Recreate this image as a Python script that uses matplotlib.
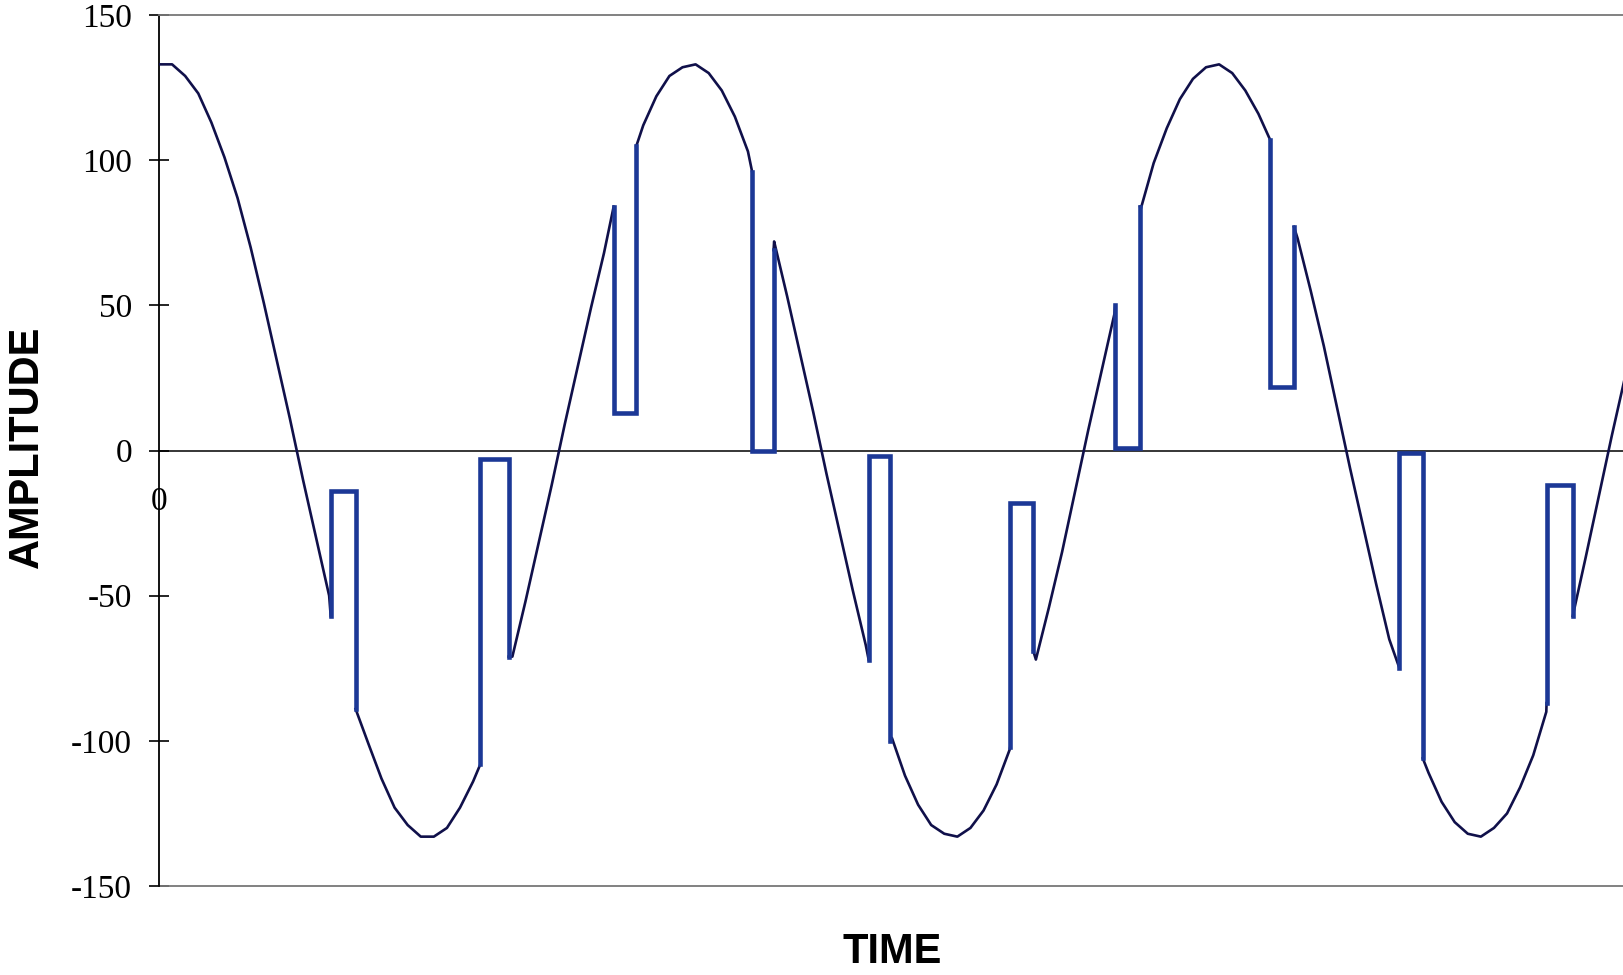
import numpy as np
import matplotlib
matplotlib.use("Agg")
import matplotlib.pyplot as plt

# carrier samples (time units, amplitude)
time = list(range(0, 561, 5))
amplitude = [133, 133, 129, 123, 113, 101, 87, 70, 51, 31, 11, -10, -30, -50,
             -69, -86, -101, -113, -123, -129, -133, -133, -130, -123, -114,
             -102, -87, -71, -52, -32, -12, 9, 29, 49, 68,
             85, 100, 112, 122, 129, 132, 133, 130, 124, 115, 103,
             88, 72, 53, 33, 13, -8, -28, -48, -67,
             -84, -99, -112, -122, -129, -132, -133, -130, -124, -115, -103,
             -89, -72, -54, -35, -14, 7, 27, 47,
             66, 83, 99, 111, 121, 128, 132, 133, 130, 124, 116,
             104, 90, 73, 55, 36, 15, -6, -26, -46, -65,
             -83, -98, -111, -121, -128, -132, -133, -130, -125, -116, -105, -90,
             -74, -56, -37, -16, 5, 25]

# notches: start / end time, curve value going in, held level, curve value coming out
notch_start = [65.6, 122.8, 173.7, 226.6, 271.1, 325.2, 365.3, 424.5, 473.9, 530.1]
notch_end = [75.1, 133.6, 182.4, 234.8, 279.4, 334.0, 374.8, 433.6, 482.8, 540.1]
notch_in = [-57, -108, 84, 96, -72, -102, 50, 107, -75, -87]
notch_hold = [-14, -3, 13, 0, -2, -18, 1, 22, -1, -12]
notch_out = [-89, -71, 105, 69, -100, -69, 84, 77, -106, -57]

ytick_vals = [-150, -100, -50, 0, 50, 100, 150]
ytick_text = ["-150", "-100", "-50", "0", "50", "100", "150"]

curve_color = "#10104a"
notch_color = "#1c3896"

fig = plt.figure(figsize=(16.23, 9.75), dpi=100)
ax = fig.add_axes([159 / 1623, 1 - 886 / 975, 1 - 159 / 1623, (886 - 15) / 975])

t = np.array(time, dtype=float)
a = np.array(amplitude, dtype=float)

# carrier pieces between notches
edges = [0.0] + notch_end
ends = notch_start + [t[-1] + 1]
starts_val = [None] + notch_out
ends_val = notch_in + [None]
for lo, hi, v0, v1 in zip(edges, ends, starts_val, ends_val):
    m = (t > lo) & (t < hi) if v0 is not None else (t >= lo) & (t < hi)
    xs = list(t[m])
    ys = list(a[m])
    if v0 is not None:
        xs = [lo] + xs
        ys = [v0] + ys
    if v1 is not None:
        xs = xs + [hi]
        ys = ys + [v1]
    ax.plot(xs, ys, color=curve_color, lw=1.9, zorder=3)

# notch rectangles
for s, e, vi, h, vo in zip(notch_start, notch_end, notch_in, notch_hold, notch_out):
    ax.plot([s, s, e, e], [vi, h, h, vo], color=notch_color, lw=3.3,
            solid_joinstyle="miter", zorder=4)

ax.set_xlim(0, 559.3)
ax.set_ylim(-150, 150)

# spines
ax.spines["right"].set_visible(False)
ax.spines["top"].set_color("#777777")
ax.spines["top"].set_linewidth(1.3)
ax.spines["left"].set_color("black")
ax.spines["left"].set_linewidth(1.3)
ax.spines["bottom"].set_position(("data", 0))
ax.spines["bottom"].set_color("black")
ax.spines["bottom"].set_linewidth(1.1)
ax.axhline(-150, color="#777777", lw=1.3, clip_on=False, zorder=2)

ax.set_yticks(ytick_vals)
ax.set_yticklabels(ytick_text, fontfamily="Liberation Serif", fontsize=24)
ax.tick_params(axis="y", direction="inout", length=15, width=1.2, pad=12)

ax.set_xticks([0])
ax.set_xticklabels(["0"], fontfamily="Liberation Serif", fontsize=24)
ax.tick_params(axis="x", length=0, pad=26)

fig.text(27 / 1623, 1 - 447 / 975, "AMPLITUDE", rotation=90, ha="center", va="center",
         fontfamily="Liberation Sans", fontweight="bold", fontsize=30)
fig.text(892 / 1623, 1 - 952 / 975, "TIME", ha="center", va="center",
         fontfamily="Liberation Sans", fontweight="bold", fontsize=30)

fig.savefig("out.png", dpi=100)
